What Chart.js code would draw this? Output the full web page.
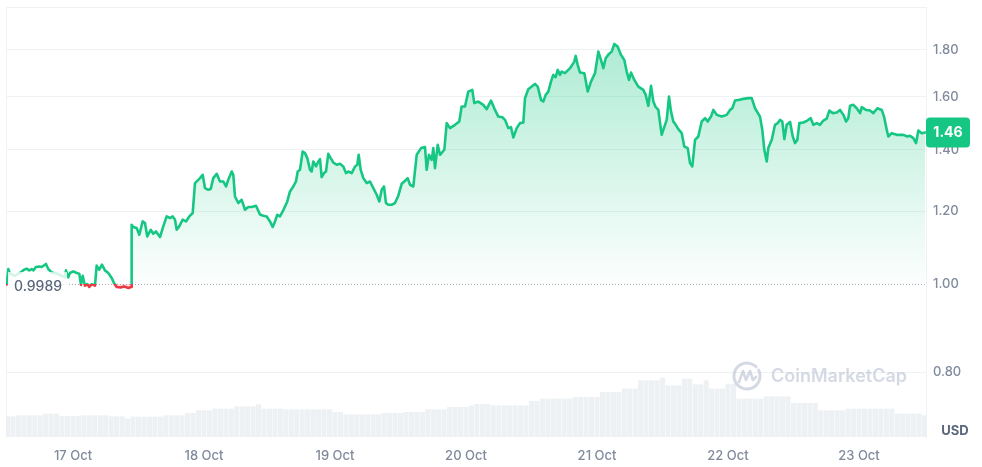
<!DOCTYPE html>
<html>
<head>
<meta charset="utf-8">
<script src="https://cdn.jsdelivr.net/npm/chart.js@4/dist/chart.umd.min.js"></script>
<style>
html,body{margin:0;padding:0;background:#fff;}
#wrap{width:982px;height:467px;position:relative;}
</style>
</head>
<body>
<div id="wrap"><canvas id="c" width="982" height="467"></canvas></div>
<script>
// ---- data ----
const dayLabels = ['17 Oct','18 Oct','19 Oct','20 Oct','21 Oct','22 Oct','23 Oct'];
const dayTickHours = [0,24,48,72,96,120,144];   // hours after 17 Oct 00:00
const priceTicks = [0.8,1.0,1.2,1.4,1.6,1.8];
const openPrice = 0.9989;
const currency = 'USD';
const watermark = 'CoinMarketCap';

// [hours after 17 Oct 00:00, price in USD]
const pricePoints = [
[-12.15,0.998],[-11.85,1.0375],[-11.54,1.0254],[-10.63,1.0203],[-9.71,1.0272],[-8.98,1.0357],[-8.48,1.0383],[-8.01,1.034],
[-7.57,1.0375],[-7.27,1.034],[-6.78,1.0427],[-6.17,1.0443],[-5.73,1.0427],[-4.95,1.0507],[-4.53,1.0375],[-3.90,1.0287],
[-2.99,1.0254],[-2.07,1.0203],[-1.47,1.016],[-1.28,1.034],[-0.86,1.016],[-0.55,1.0272],[0.05,1.0314],[0.68,1.0272],
[1.15,1.0254],[1.47,0.997],[1.78,1.02],[2.20,0.995],[2.62,0.999],[2.99,0.992],[3.43,0.999],[4.03,0.995],
[4.34,1.0463],[4.82,1.0357],[5.31,1.049],[5.86,1.034],[6.47,1.0272],[7.09,1.0146],[7.51,1.0018],[8.01,0.9917],
[8.74,0.9907],[9.34,0.9932],[10.13,0.9892],[10.63,0.9917],[10.75,1.1597],[11.05,1.153],[11.67,1.1499],[12.15,1.1309],
[12.77,1.1693],[13.19,1.1647],[13.61,1.126],[14.24,1.145],[14.71,1.1337],[15.21,1.1403],[15.94,1.1244],[16.54,1.1548],
[17.17,1.1841],[17.77,1.1794],[18.27,1.1841],[18.69,1.1745],[19.00,1.145],[19.47,1.1548],[20.10,1.1745],[20.70,1.1693],
[21.31,1.1841],[21.93,1.1942],[22.35,1.2876],[22.96,1.2982],[23.27,1.3037],[23.76,1.3147],[24.18,1.2716],[24.79,1.266],
[25.23,1.2683],[25.70,1.3037],[26.33,1.318],[26.93,1.2927],[27.54,1.2927],[28.03,1.2766],[28.45,1.2982],[29.08,1.3256],
[29.37,1.3147],[29.68,1.245],[30.28,1.2246],[30.91,1.2346],[31.51,1.204],[32.12,1.2123],[32.74,1.2123],[33.53,1.2163],
[34.26,1.19],[34.86,1.1862],[35.49,1.1841],[36.09,1.1693],[36.59,1.153],[37.01,1.1693],[37.43,1.1891],[37.92,1.1841],
[38.42,1.199],[38.84,1.2142],[39.26,1.2295],[39.76,1.2608],[40.36,1.2766],[40.86,1.2927],[41.17,1.3256],[41.59,1.3312],
[42.08,1.3938],[42.50,1.3883],[42.93,1.3708],[43.42,1.3312],[43.73,1.3256],[44.02,1.3593],[44.52,1.3424],[44.94,1.3593],
[45.25,1.3674],[45.56,1.3072],[45.99,1.3204],[46.35,1.3256],[46.77,1.3858],[47.21,1.3708],[47.69,1.356],[48.31,1.3481],
[48.92,1.3515],[49.52,1.3424],[50.02,1.3204],[50.44,1.3256],[51.06,1.3204],[51.67,1.3424],[52.09,1.3481],[52.34,1.3824],
[52.71,1.3312],[53.19,1.3037],[53.81,1.2876],[54.41,1.2927],[55.02,1.2716],[55.64,1.2504],[56.12,1.2295],[56.56,1.266],
[56.98,1.2766],[57.34,1.2246],[57.76,1.2193],[58.39,1.2193],[58.99,1.2246],[59.60,1.2473],[60.22,1.2853],[60.70,1.2927],
[61.32,1.3037],[61.74,1.2821],[62.35,1.2766],[62.97,1.3824],[63.76,1.4058],[64.49,1.4093],[64.80,1.3312],[65.22,1.3824],
[65.72,1.365],[66.01,1.4058],[66.32,1.337],[66.82,1.4175],[67.24,1.3824],[68.03,1.40],[68.47,1.4969],[69.07,1.4782],
[69.99,1.4905],[70.77,1.5029],[71.21,1.5605],[71.82,1.5605],[72.42,1.6203],[73.15,1.6271],[73.52,1.5739],[74.25,1.5802],
[75.17,1.5672],[75.79,1.5502],[76.58,1.5841],[77.31,1.5474],[77.92,1.5218],[78.65,1.5193],[79.15,1.5091],[79.75,1.4782],
[80.24,1.4819],[80.67,1.4437],[81.29,1.4782],[81.89,1.4969],[82.50,1.4991],[82.81,1.5938],[83.41,1.63],[84.04,1.6408],
[84.64,1.652],[85.14,1.6408],[85.74,1.5868],[86.16,1.5802],[86.60,1.607],[87.08,1.6203],[87.57,1.6616],[87.99,1.6898],
[88.43,1.68],[88.80,1.711],[89.22,1.6898],[89.53,1.7038],[90.14,1.697],[91.06,1.7185],[91.84,1.7471],[92.10,1.7723],
[92.46,1.7327],[92.89,1.6996],[93.68,1.697],[94.30,1.6203],[94.90,1.6616],[95.64,1.697],[96.24,1.7915],[96.73,1.7544],
[97.16,1.7185],[97.59,1.7622],[98.20,1.7812],[98.69,1.7915],[99.17,1.8264],[99.79,1.8141],[100.40,1.7768],[101.00,1.7544],
[101.44,1.7038],[101.86,1.6685],[102.23,1.6996],[102.83,1.6685],[103.57,1.6408],[104.48,1.6271],[104.92,1.607],[105.40,1.5633],
[105.90,1.6438],[106.32,1.5802],[106.76,1.5582],[107.23,1.5474],[107.85,1.4535],[108.15,1.4717],[108.77,1.5091],[109.19,1.6001],
[109.56,1.541],[109.98,1.5029],[110.42,1.4905],[110.90,1.4743],[111.52,1.4596],[111.99,1.4114],[112.62,1.4058],[113.04,1.3539],
[113.46,1.3424],[113.96,1.4352],[114.56,1.4473],[115.18,1.5029],[115.79,1.5157],[116.28,1.5029],[116.89,1.5218],[117.31,1.5474],
[117.93,1.5283],[118.85,1.5218],[119.76,1.5283],[120.37,1.5474],[120.79,1.554],[121.28,1.5841],[121.89,1.5868],[122.81,1.5909],
[123.72,1.5938],[124.34,1.5938],[124.95,1.554],[125.86,1.5218],[126.28,1.4717],[126.65,1.40],[127.09,1.3593],[127.38,1.4058],
[128.01,1.4352],[128.61,1.4905],[129.11,1.4969],[129.53,1.5091],[129.95,1.5029],[130.32,1.438],[130.76,1.4905],[131.36,1.5017],
[131.86,1.4473],[132.28,1.4236],[132.70,1.4352],[133.07,1.4969],[133.80,1.4991],[134.53,1.5066],[135.15,1.5157],[135.63,1.4905],
[136.25,1.4969],[136.86,1.4905],[137.46,1.5066],[138.08,1.5142],[138.56,1.5448],[139.18,1.5349],[139.92,1.5372],[140.52,1.5474],
[141.13,1.5283],[141.62,1.5029],[142.04,1.5157],[142.35,1.5633],[142.96,1.5672],[143.58,1.554],[144.19,1.5349],[144.50,1.5582],
[145.28,1.5474],[146.02,1.5448],[146.62,1.5349],[147.36,1.554],[148.16,1.5474],[148.58,1.5218],[149.08,1.4717],[149.37,1.4473],
[149.99,1.4596],[150.91,1.4535],[152.12,1.4535],[152.85,1.4473],[153.35,1.4498],[153.95,1.4415],[154.45,1.4236],[154.87,1.4692],
[155.49,1.4596],[156.09,1.462]
];

// hourly 24h volume (USD millions), first bar at hour -12
const volumeStartHour = -12;
const volumes = [
20.7,20.7,21.7,21.7,21.7,21.7,21.7,23.4,23.4,23.4,
21,21,21,21,21.7,21.7,21.7,21.7,21.7,20.7,
20.7,20.7,18.4,20.4,20.4,20.4,20.4,20.4,20.4,21.7,
21.7,21.7,21.7,24,24,26.7,26.7,26.7,28.4,28.4,
28.4,28.4,30.7,30.7,30.7,30.7,32.7,28.4,28.4,28.4,
28.4,27.7,27.7,27.7,27.7,27.7,27.7,27.7,27.7,27.7,
25,25,22.7,22.7,22.7,22.7,22.7,22.7,22.7,24,
24,24,24,25,25,25,25,27.7,27.7,27.7,
27.7,30,30,30,30,31.4,33,33,33,31.7,
31.7,31.7,31.7,31.7,31.7,31.7,36,36,38.4,38.4,
38.4,38.4,38.4,38.4,40,40,40,40,40,45,
45,45,45,48.4,48.4,48.4,56.7,56.7,56.7,56.7,
59.4,51.7,51.7,51.7,58.4,58.4,52.7,52.7,56.7,48.4,
48.4,48.4,53.4,53.4,38.4,38.4,38.4,38.4,38.4,40.7,
40.7,40.7,40.7,40.7,34,34,34,34,34,26.7,
26.7,26.7,26.7,26.7,28.4,28.4,28.4,28.4,28.4,28.4,
28.4,28.4,28.4,23.4,23.4,23.4,23.4,23.4,21.7
];

// ---- styling ----
const GREEN = '#16c784';
const RED = '#ea3943';
const GRID = '#eff2f5';
const TICK = '#808a9d';
const FONT = 'Inter, "Noto Sans", sans-serif';

const lineData = pricePoints.map(p => ({x: p[0], y: p[1]}));
const volData = volumes.map((v, i) => ({x: volumeStartHour + i, y: v}));

function lineColor(c) {
  const ch = c.chart, a = ch.chartArea;
  if (!a) return GREEN;
  const yb = ch.scales.y.getPixelForValue(openPrice);
  const s = Math.min(1, Math.max(0, (yb - a.top) / (a.bottom - a.top)));
  const g = ch.ctx.createLinearGradient(0, a.top, 0, a.bottom);
  g.addColorStop(0, GREEN); g.addColorStop(s, GREEN);
  g.addColorStop(s, RED); g.addColorStop(1, RED);
  return g;
}
function fillColor(c) {
  const ch = c.chart, a = ch.chartArea;
  if (!a) return 'rgba(22,199,132,0.2)';
  const yb = ch.scales.y.getPixelForValue(openPrice);
  const g = ch.ctx.createLinearGradient(0, a.top, 0, yb);
  g.addColorStop(0, 'rgba(22,199,132,0.40)');
  g.addColorStop(1, 'rgba(22,199,132,0.01)');
  return g;
}

const overlay = {
  id: 'overlay',
  beforeDatasetsDraw(chart) {
    const {ctx, chartArea: a, scales} = chart;
    ctx.save();
    ctx.strokeStyle = GRID; ctx.lineWidth = 1;
    ctx.beginPath();
    ctx.moveTo(a.left, a.top + 0.5); ctx.lineTo(a.right, a.top + 0.5);
    ctx.moveTo(a.left + 0.5, a.top); ctx.lineTo(a.left + 0.5, a.bottom);
    ctx.stroke();
    // dotted open-price line
    const yb = Math.round(scales.y.getPixelForValue(openPrice)) + 0.5;
    ctx.strokeStyle = '#a7adbb';
    ctx.setLineDash([1, 2]);
    ctx.beginPath(); ctx.moveTo(a.left, yb); ctx.lineTo(a.right, yb); ctx.stroke();
    ctx.restore();
  },
  afterDatasetsDraw(chart) {
    const {ctx, chartArea: a, scales} = chart;
    const yb = scales.y.getPixelForValue(openPrice);
    ctx.save();
    // open price label
    ctx.fillStyle = 'rgba(255,255,255,0.82)';
    ctx.fillRect(a.left + 2, yb - 12, 59, 25);
    ctx.fillStyle = '#58667e';
    ctx.font = '500 14px ' + FONT;
    ctx.textAlign = 'left'; ctx.textBaseline = 'middle';
    ctx.fillText(openPrice.toFixed(4), a.left + 8, yb + 3);

    // watermark
    const cx = 747, cy = 376;
    ctx.strokeStyle = 'rgba(176,186,204,0.55)';
    ctx.lineWidth = 3; ctx.lineCap = 'round'; ctx.lineJoin = 'round';
    ctx.beginPath(); ctx.arc(cx, cy, 13, -0.15 * Math.PI, 1.75 * Math.PI); ctx.stroke();
    ctx.lineWidth = 2.6;
    ctx.beginPath();
    ctx.moveTo(cx - 8, cy + 6); ctx.lineTo(cx - 4, cy - 5); ctx.lineTo(cx - 1, cy + 4);
    ctx.lineTo(cx + 3, cy - 5); ctx.lineTo(cx + 6, cy + 4); ctx.lineTo(cx + 9, cy + 1);
    ctx.stroke();
    ctx.fillStyle = 'rgba(176,186,204,0.55)';
    let fs = 22;
    ctx.font = '600 ' + fs + 'px ' + FONT;
    const w = ctx.measureText(watermark).width;
    fs = fs * 136 / w;
    ctx.font = '600 ' + fs.toFixed(1) + 'px ' + FONT;
    ctx.textBaseline = 'middle';
    ctx.fillText(watermark, 771, cy + 1);
    ctx.restore();
  },
  afterDraw(chart) {
    const {ctx, chartArea: a, scales} = chart;
    ctx.save();
    // currency label
    ctx.fillStyle = '#58667e';
    ctx.font = '700 13px ' + FONT;
    ctx.textAlign = 'center'; ctx.textBaseline = 'middle';
    ctx.fillText(currency, 955, a.bottom - 6);
    // last price tag
    const last = pricePoints[pricePoints.length - 1][1];
    const y = scales.y.getPixelForValue(last);
    const x0 = a.right, w = 44, h = 30;
    ctx.fillStyle = GREEN;
    ctx.beginPath();
    ctx.roundRect(x0, y - h / 2, w, h, 4);
    ctx.fill();
    ctx.fillStyle = '#ffffff';
    ctx.font = '700 14px ' + FONT;
    ctx.fillText(last.toFixed(2), x0 + w / 2, y + 0.5);
    ctx.restore();
  }
};

new Chart(document.getElementById('c'), {
  type: 'line',
  data: {
    datasets: [
      {
        type: 'line',
        data: lineData,
        yAxisID: 'y',
        order: 1,
        borderColor: lineColor,
        backgroundColor: fillColor,
        borderWidth: 2.6,
        pointRadius: 0,
        tension: 0,
        borderJoinStyle: 'round',
        borderCapStyle: 'round',
        fill: {target: {value: openPrice}, below: 'rgba(234,57,67,0.16)'}
      },
      {
        type: 'bar',
        data: volData,
        yAxisID: 'yv',
        order: 2,
        backgroundColor: '#eef1f4',
        borderWidth: 0,
        barPercentage: 0.94,
        categoryPercentage: 1
      }
    ]
  },
  options: {
    responsive: false,
    animation: false,
    events: [],
    layout: {padding: {left: 6, top: 7, right: 0, bottom: 0}},
    plugins: {legend: {display: false}, tooltip: {enabled: false}},
    scales: {
      x: {
        type: 'linear',
        min: -12.27, max: 156.27,
        offset: false,
        grid: {display: false, drawTicks: false},
        border: {display: false},
        afterBuildTicks: s => { s.ticks = dayTickHours.map(v => ({value: v})); },
        afterFit: s => { s.height = 30; s.paddingLeft = 0; s.paddingRight = 0; },
        ticks: {
          autoSkip: false, maxRotation: 0, padding: 11,
          color: TICK, font: {family: FONT, size: 13, weight: '500'},
          callback: v => dayLabels[dayTickHours.indexOf(v)]
        }
      },
      y: {
        type: 'logarithmic',
        position: 'right',
        min: 0.6803, max: 2.004,
        afterBuildTicks: s => { s.ticks = priceTicks.map(v => ({value: v})); },
        afterFit: s => { s.width = 56; s.paddingTop = 0; s.paddingBottom = 0; },
        grid: {
          drawTicks: false,
          color: c => (c.tick && Math.abs(c.tick.value - 1) < 1e-9) ? 'rgba(0,0,0,0)' : GRID
        },
        border: {display: true, color: GRID},
        ticks: {
          padding: 7,
          color: TICK, font: {family: FONT, size: 13, weight: '500'},
          callback: v => Number(v).toFixed(2)
        }
      },
      yv: {
        type: 'linear',
        display: false,
        min: 0, max: 430
      }
    }
  },
  plugins: [overlay]
});
</script>
</body>
</html>
